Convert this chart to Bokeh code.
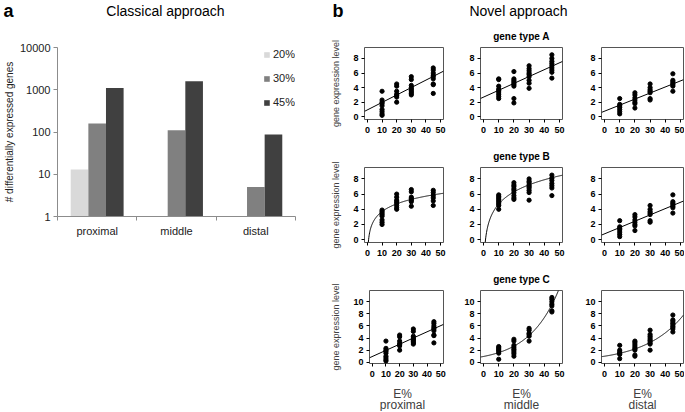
import numpy as np
from bokeh.plotting import figure
from bokeh.layouts import column, row
from bokeh.models import Range1d, FixedTicker, PrintfTickFormatter, Legend, LegendItem, ColumnDataSource
from bokeh.embed import file_html
from bokeh.resources import INLINE
from bokeh.core.properties import value

FONT = "Liberation Sans"

# ---------------- panel a : classical approach ----------------
regions = ["proximal", "middle", "distal"]
series_labels = ["20%", "30%", "45%"]
deg_20 = [13, None, None]
deg_30 = [160, 110, 5]
deg_45 = [1100, 1600, 87]
bar_colors = ["#d9d9d9", "#808080", "#404040"]
log_ticks = [1, 10, 100, 1000, 10000]

# ---------------- panel b : novel approach ----------------
e_levels = [10, 20, 30, 45]
x_ticks = [0, 10, 20, 30, 40, 50]
gene_types = ["gene type A", "gene type B", "gene type C"]

A_prox = [[3.5, 2.3, 2.0, 1.8, 1.5, 1.0, 0.7, 0.4, 0.2],
          [4.5, 4.2, 3.5, 3.1, 2.9, 2.7, 2.0],
          [5.5, 5.1, 4.3, 4.0, 3.8, 3.6, 3.4, 3.2, 3.0],
          [6.7, 6.4, 6.0, 5.7, 5.5, 5.2, 4.5, 4.4, 3.2]]
A_mid = [[5.2, 5.1, 4.2, 3.8, 3.6, 3.4, 3.1, 2.8, 2.5],
         [6.2, 5.2, 5.0, 4.8, 4.6, 4.4, 4.2, 2.5, 1.9],
         [7.0, 6.6, 6.3, 6.0, 5.8, 5.5, 5.0, 4.6, 3.9],
         [8.5, 8.0, 7.6, 7.3, 7.0, 6.7, 6.4, 6.1, 5.3]]
A_dist = [[2.5, 1.7, 1.5, 1.3, 1.0, 0.7, 0.4],
          [3.3, 3.0, 2.6, 2.3, 2.0, 1.8, 1.2],
          [4.5, 4.0, 3.7, 3.5, 3.3, 2.5, 2.3],
          [5.9, 5.0, 4.8, 4.6, 4.4, 4.2, 3.5]]
B_prox = [[3.9, 3.7, 3.5, 3.3, 3.1, 2.6, 2.3, 2.0],
          [6.0, 5.6, 5.2, 5.0, 4.8, 4.5, 4.2, 4.0],
          [6.6, 6.3, 5.6, 5.4, 5.2, 5.0, 4.4],
          [6.5, 6.2, 5.8, 5.5, 5.1, 4.5]]
B_mid = [[5.9, 5.7, 5.5, 5.3, 5.1, 4.9, 4.7, 4.5, 4.0],
         [7.5, 7.2, 7.0, 6.7, 6.5, 6.2, 5.8, 5.5, 5.3],
         [8.0, 7.7, 7.5, 7.2, 7.0, 6.8, 6.5, 6.2, 5.2],
         [8.5, 8.1, 7.8, 7.4, 7.1, 6.8, 5.8]]
B_dist = [[2.5, 1.7, 1.5, 1.3, 1.0, 0.7, 0.4],
          [3.3, 3.0, 2.6, 2.3, 2.0, 1.8, 1.2],
          [4.5, 4.0, 3.7, 3.5, 3.3, 2.5, 2.3],
          [5.9, 5.0, 4.8, 4.6, 4.4, 4.2, 3.5]]
C_prox = [[3.5, 2.3, 2.0, 1.8, 1.5, 1.0, 0.7, 0.4, 0.2],
          [4.5, 4.2, 3.5, 3.1, 2.9, 2.7, 2.0],
          [5.5, 5.1, 4.3, 4.0, 3.8, 3.6, 3.4, 3.2, 3.0],
          [6.7, 6.4, 6.0, 5.7, 5.5, 5.2, 4.5, 4.4, 3.2]]
C_mid = [[2.6, 2.4, 2.2, 2.0, 1.8, 1.5, 0.5],
         [3.8, 3.5, 2.8, 2.5, 2.2, 2.0, 1.7, 1.4, 1.0],
         [5.6, 5.3, 4.8, 4.6, 4.3, 3.5],
         [10.7, 10.4, 10.0, 9.6, 9.3, 8.5, 8.3]]
C_dist = [[2.8, 2.0, 1.7, 1.5, 1.3, 0.6],
          [3.5, 3.3, 3.0, 2.7, 2.4, 2.2, 2.0, 1.2, 1.0],
          [5.3, 4.6, 4.3, 4.0, 3.7, 3.5, 3.2, 3.0, 2.0],
          [7.8, 7.0, 6.8, 6.5, 6.3, 6.0, 5.8, 5.5, 5.0]]

# fitted models (kind, a, b): lin y=a+b*x ; log y=a+b*ln(x) ; exp y=a*exp(b*x)
fit_A = [("lin", 0.95, 0.102), ("lin", 2.7, 0.094), ("lin", 0.77, 0.083)]
fit_B = [("log", 0.34, 1.46), ("log", -0.6, 2.3), ("lin", 0.77, 0.083)]
fit_C = [("lin", 0.95, 0.102), ("exp", 0.962, 0.0509), ("exp", 1.0, 0.0395)]

points = [[A_prox, A_mid, A_dist], [B_prox, B_mid, B_dist], [C_prox, C_mid, C_dist]]
fits = [fit_A, fit_B, fit_C]
y_ranges = [(-0.37, 9.5), (-0.37, 9.5), (-0.2, 11.85)]
y_ticks = [[0, 2, 4, 6, 8], [0, 2, 4, 6, 8], [0, 2, 4, 6, 8, 10]]
col_names = ["proximal", "middle", "distal"]
x_axis_title = "E%"

# ---------------- header ----------------
W = 684
HH = 22
head = figure(width=W, height=HH, x_range=Range1d(0, W), y_range=Range1d(0, HH),
              output_backend="svg", toolbar_location=None, min_border=0)
head.axis.visible = False
head.grid.visible = False
head.outline_line_color = None
head.text(x=[3, 332], y=[12, 12], text=["a", "b"], text_font=value(FONT),
          text_font_size="18px", text_font_style="bold", text_baseline="middle",
          text_align="left", text_color="#000")
head.text(x=[165, 518], y=[12, 12], text=["Classical approach", "Novel approach"],
          text_font=value(FONT), text_font_size="14px", text_baseline="middle",
          text_align="center", text_color="#000")

# ---------------- panel a ----------------
pa = figure(width=328, height=389, x_range=Range1d(0, 3), y_range=Range1d(1, 10000),
            y_axis_type="log", output_backend="svg", toolbar_location=None,
            min_border_left=52, min_border_right=33, min_border_top=25, min_border_bottom=195)
pa.grid.visible = False
pa.outline_line_color = None
n_series = len(series_labels)
bw = 1.0 / (n_series + 1.5)
items = []
for j, (lab, vals, col) in enumerate(zip(series_labels, [deg_20, deg_30, deg_45], bar_colors)):
    idx = [i for i, v in enumerate(vals) if v is not None]
    src = ColumnDataSource(dict(x=[i + 0.5 + (j - 1) * bw for i in idx],
                                top=[vals[i] for i in idx]))
    r = pa.vbar(x="x", top="top", bottom=1, width=bw, source=src, fill_color=col,
                line_color=None)
    items.append(LegendItem(label=lab, renderers=[r]))
leg = Legend(items=items, location="top_right", border_line_color=None,
             background_fill_alpha=0, margin=0, padding=0, glyph_width=7, glyph_height=7,
             label_text_font=FONT, label_text_font_size="11px", label_standoff=3,
             spacing=10, label_height=14, label_text_color="#222")
pa.add_layout(leg)
pa.yaxis.ticker = FixedTicker(ticks=log_ticks, minor_ticks=[])
pa.yaxis.formatter = PrintfTickFormatter(format="%d")
pa.xaxis.ticker = FixedTicker(ticks=[i + 0.5 for i in range(len(regions))],
                              minor_ticks=list(range(len(regions) + 1)))
pa.xaxis.major_label_overrides = {i + 0.5: r for i, r in enumerate(regions)}
for ax in (pa.xaxis, pa.yaxis):
    ax.axis_line_color = "#8c8c8c"
    ax.major_tick_line_color = "#8c8c8c"
    ax.minor_tick_line_color = "#8c8c8c"
    ax.major_tick_in = 0
    ax.minor_tick_in = 0
    ax.major_label_text_font = FONT
    ax.major_label_text_color = "#222"
    ax.axis_label_text_font = FONT
    ax.axis_label_text_font_style = "normal"
    ax.axis_label_text_color = "#222"
pa.xaxis.major_tick_out = 0
pa.xaxis.minor_tick_out = 4
pa.xaxis.major_label_standoff = 4
pa.xaxis.major_label_text_font_size = "11px"
pa.yaxis.major_tick_out = 4
pa.yaxis.minor_tick_out = 0
pa.yaxis.major_label_standoff = 3
pa.yaxis.major_label_text_font_size = "11px"
pa.yaxis.axis_label = "# differentially expressed genes"
pa.yaxis.axis_label_text_font_size = "10px"
pa.yaxis.axis_label_standoff = 2

# ---------------- panel b ----------------
col_w = [130, 120, 106]
col_l = [33, 22, 23]
col_r = [15, 16, 1]
row_h = [120, 123, 117]
row_t = [21, 24, 22]
row_b = [23, 23, 19]


def curve(fit, yr):
    kind, a, b = fit
    if kind == "lin":
        xs = np.array([-2.0, 52.0])
        return xs, a + b * xs
    if kind == "log":
        x0 = np.exp((yr[0] - a) / b)
        xs = np.linspace(x0, 52, 300)
        return xs, a + b * np.log(xs)
    x1 = min(52.0, np.log(yr[1] / a) / b)
    xs = np.linspace(-2, x1, 300)
    return xs, a * np.exp(b * xs)


rows = []
for ri in range(3):
    figs = []
    for ci in range(3):
        yr = y_ranges[ri]
        p = figure(width=col_w[ci], height=row_h[ri], x_range=Range1d(-2, 52),
                   y_range=Range1d(*yr), output_backend="svg", toolbar_location=None,
                   min_border_left=col_l[ci], min_border_right=col_r[ci],
                   min_border_top=row_t[ri], min_border_bottom=row_b[ri])
        p.grid.visible = False
        p.outline_line_color = "#555"
        p.outline_line_width = 1
        xs, ys = [], []
        for e, vals in zip(e_levels, points[ri][ci]):
            xs += [e] * len(vals)
            ys += vals
        p.scatter(xs, ys, size=4.2, color="#000")
        cx, cy = curve(fits[ri][ci], yr)
        p.line(cx, cy, line_color="#000", line_width=1)
        p.xaxis.ticker = FixedTicker(ticks=x_ticks, minor_ticks=[])
        p.yaxis.ticker = FixedTicker(ticks=y_ticks[ri], minor_ticks=[])
        for ax in (p.xaxis, p.yaxis):
            ax.axis_line_color = None
            ax.major_tick_line_color = "#000"
            ax.major_tick_in = 0
            ax.major_tick_out = 3
            ax.major_label_standoff = 3
            ax.major_label_text_font = FONT
            ax.major_label_text_font_size = "9px"
            ax.major_label_text_font_style = "bold"
            ax.major_label_text_color = "#000"
            ax.axis_label_text_font = FONT
            ax.axis_label_text_font_style = "normal"
            ax.axis_label_text_color = "#404040"
        p.xaxis.major_label_standoff = 4
        if ci == 1:
            p.title.text = gene_types[ri]
            p.title.align = "center"
            p.title.text_font = FONT
            p.title.text_font_size = "10px"
            p.title.text_font_style = "bold"
            p.title.text_color = "#000"
            p.title.standoff = 12
        if ci == 0:
            p.yaxis.axis_label = "gene expression level"
            p.yaxis.axis_label_text_font_size = "9px"
            p.yaxis.axis_label_standoff = 9
        figs.append(p)
    rows.append(row(*figs))

# footer with the x-axis titles under the bottom row
FH = 29
foot_w = sum(col_w)
foot = figure(width=foot_w, height=FH, x_range=Range1d(0, foot_w), y_range=Range1d(0, FH),
              output_backend="svg", toolbar_location=None, min_border=0)
foot.axis.visible = False
foot.grid.visible = False
foot.outline_line_color = None
centers = []
acc = 0
for w, l, r in zip(col_w, col_l, col_r):
    centers.append(acc + l + (w - l - r) / 2)
    acc += w
foot.text(x=centers, y=[18] * 3, text=[x_axis_title] * 3, text_font=value(FONT),
          text_font_size="12px", text_baseline="middle", text_align="center",
          text_color="#404040")
foot.text(x=centers, y=[7] * 3, text=col_names, text_font=value(FONT),
          text_font_size="12px", text_baseline="middle", text_align="center",
          text_color="#404040")

layout = column(head, row(pa, column(*rows, foot)))
open("out.html", "w").write(file_html(layout, INLINE))
